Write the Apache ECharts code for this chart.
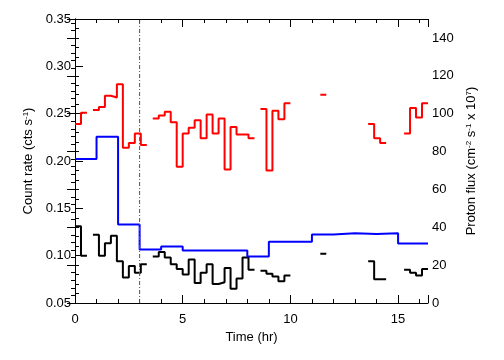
<!DOCTYPE html>
<html>
<head>
<meta charset="utf-8">
<script src="https://cdn.jsdelivr.net/npm/echarts@6/dist/echarts.min.js"></script>
<style>html,body{margin:0;padding:0;background:#fff}#c{width:504px;height:360px}</style>
</head>
<body>
<div id="c"></div>
<script>
// Count-rate bins of 1000 s (hours), null = no data
const BIN_H = 1000 / 3600;
const redRate = [0.239, 0.251, null, 0.254, 0.257, 0.269, 0.267, 0.281, 0.214, 0.219,
  0.229, 0.217, null, 0.245, 0.248, 0.252, 0.241, 0.194, 0.229, 0.235,
  0.243, 0.224, 0.249, 0.229, 0.245, 0.191, 0.236, 0.228, 0.228, 0.224,
  null, 0.255, 0.190, 0.253, 0.244, 0.261, null, null, null, null,
  null, 0.270, null, null, null, null, null, null, null, 0.239,
  0.224, 0.219, null, null, null, 0.229, 0.256, 0.246, 0.261];
const blackRate = [0.131, 0.100, null, 0.122, 0.100, 0.113, 0.121, 0.094, 0.077, 0.089,
  0.082, 0.091, null, 0.099, 0.104, 0.098, 0.091, 0.086, 0.080, 0.096,
  0.071, 0.082, 0.091, 0.070, 0.072, 0.087, 0.065, 0.076, 0.098, 0.085,
  null, 0.084, 0.081, 0.078, 0.073, 0.079, null, null, null, null,
  null, 0.102, null, null, null, null, null, null, null, 0.094,
  0.075, 0.075, null, null, null, 0.085, 0.082, 0.079, 0.086];
// Proton flux, hourly bins (last bin runs to the end of the observation)
const fluxStart = [0, 1, 2, 3, 4, 5, 6, 7, 8, 9, 10, 11, 12, 13, 14, 15];
const protonFlux = [76.1, 87.8, 41.5, 28.2, 29.8, 27.7, 27.7, 27.7, 24.5, 32.4, 32.4, 36.2, 36.9, 36.5, 36.9, 31.4];
const XMAX = redRate.length * BIN_H;
const markerTime = 3.0;
const xTickLabels = [0, 5, 10, 15];
const leftTicks = [0.05, 0.10, 0.15, 0.20, 0.25, 0.30, 0.35];
const rightTicks = [0, 20, 40, 60, 80, 100, 120, 140];

function stepData(starts, ends, vals) {
  const out = [];
  for (let i = 0; i < vals.length; i++) {
    const v = vals[i];
    if (v == null) {
      if (out.length && out[out.length - 1][1] != null) out.push([starts[i], null]);
      continue;
    }
    out.push([starts[i], v]);
    if (i === vals.length - 1 || vals[i + 1] == null) out.push([ends[i], v]);
  }
  return out;
}
const binStarts = redRate.map((_, i) => i * BIN_H);
const binEnds = redRate.map((_, i) => (i + 1) * BIN_H);
const fluxEnds = fluxStart.map((t, i) => i < fluxStart.length - 1 ? fluxStart[i + 1] : XMAX);

const FONT = '"Liberation Sans", Arial, Helvetica, sans-serif';
const BLACK = '#000';
const lineAx = { show: true, lineStyle: { color: BLACK, width: 1 } };
const nameStyle = {
  fontSize: 13, fontFamily: FONT, color: BLACK,
  rich: { sup: { fontSize: 8, fontFamily: FONT, color: BLACK, verticalAlign: 'top' } }
};
const gridRect = { left: 75, right: 76, top: 19, bottom: 57 };

const chart = echarts.init(document.getElementById('c'), null, { renderer: 'canvas' });
chart.setOption({
  animation: false,
  backgroundColor: '#fff',
  grid: [Object.assign({}, gridRect), Object.assign({}, gridRect)],
  xAxis: [
    { gridIndex: 0, type: 'value', position: 'bottom', min: 0, max: XMAX, interval: 5,
      axisLine: lineAx, splitLine: { show: false },
      axisTick: { inside: true, length: 8, lineStyle: { color: BLACK } },
      axisLabel: { fontSize: 13, fontFamily: FONT, color: BLACK, margin: 10,
        formatter: v => xTickLabels.indexOf(Math.round(v * 1000) / 1000) >= 0 ? String(Math.round(v)) : '' },
      name: 'Time (hr)', nameLocation: 'middle', nameGap: 24, nameTextStyle: nameStyle },
    { gridIndex: 0, type: 'value', position: 'top', min: 0, max: XMAX, interval: 5,
      axisLine: lineAx, splitLine: { show: false },
      axisTick: { inside: true, length: 8, lineStyle: { color: BLACK } },
      axisLabel: { show: false } },
    { gridIndex: 1, type: 'value', position: 'bottom', min: 0, max: XMAX, interval: 1,
      axisLine: { show: false }, splitLine: { show: false },
      axisTick: { inside: true, length: 4, lineStyle: { color: BLACK } },
      axisLabel: { show: false } },
    { gridIndex: 1, type: 'value', position: 'top', min: 0, max: XMAX, interval: 1,
      axisLine: { show: false }, splitLine: { show: false },
      axisTick: { inside: true, length: 4, lineStyle: { color: BLACK } },
      axisLabel: { show: false } }
  ],
  yAxis: [
    { gridIndex: 0, type: 'value', position: 'left', min: 0.05, max: 0.35, interval: 0.05,
      axisLine: lineAx, splitLine: { show: false },
      axisTick: { inside: true, length: 8, lineStyle: { color: BLACK } },
      minorTick: { show: true, splitNumber: 5, length: 4, lineStyle: { color: BLACK } },
      minorSplitLine: { show: false },
      axisLabel: { fontSize: 13, fontFamily: FONT, color: BLACK, margin: 4,
        formatter: v => leftTicks.some(t => Math.abs(t - v) < 1e-6) ? v.toFixed(2) : '' },
      name: 'Count rate (cts s{sup|-1})', nameLocation: 'middle', nameRotate: 90, nameGap: 37,
      nameTextStyle: nameStyle },
    { gridIndex: 0, type: 'value', position: 'right', min: 0, max: 150, interval: 20,
      axisLine: lineAx, splitLine: { show: false },
      axisTick: { inside: true, length: 8, lineStyle: { color: BLACK } },
      axisLabel: { fontSize: 13, fontFamily: FONT, color: BLACK, margin: 4,
        formatter: v => rightTicks.indexOf(Math.round(v)) >= 0 && Math.abs(v - Math.round(v)) < 1e-6 ? String(v) : '' },
      name: 'Proton flux (cm{sup|-2} s{sup|-1} x 10{sup|7})', nameLocation: 'middle', nameRotate: 90, nameGap: 29,
      nameTextStyle: nameStyle },
    { gridIndex: 1, type: 'value', position: 'right', min: 0, max: 150, interval: 4,
      axisLine: { show: false }, splitLine: { show: false },
      axisTick: { inside: true, length: 4, lineStyle: { color: BLACK } },
      axisLabel: { show: false } }
  ],
  series: [
    { type: 'line', xAxisIndex: 0, yAxisIndex: 0, step: 'end', symbol: 'none', silent: true,
      data: stepData(binStarts, binEnds, blackRate), connectNulls: false,
      lineStyle: { color: '#000', width: 2 } },
    { type: 'line', xAxisIndex: 0, yAxisIndex: 0, step: 'end', symbol: 'none', silent: true,
      data: stepData(binStarts, binEnds, redRate), connectNulls: false,
      lineStyle: { color: '#ff0000', width: 2 } },
    { type: 'line', xAxisIndex: 0, yAxisIndex: 1, step: 'end', symbol: 'none', silent: true,
      data: stepData(fluxStart, fluxEnds, protonFlux), connectNulls: false,
      lineStyle: { color: '#0000ff', width: 2 } },
    { type: 'line', xAxisIndex: 0, yAxisIndex: 0, symbol: 'none', silent: true,
      data: [[markerTime, 0.05], [markerTime, 0.35]],
      lineStyle: { color: '#555', width: 1, type: [4, 2, 1, 2] } }
  ]
});
</script>
</body>
</html>
